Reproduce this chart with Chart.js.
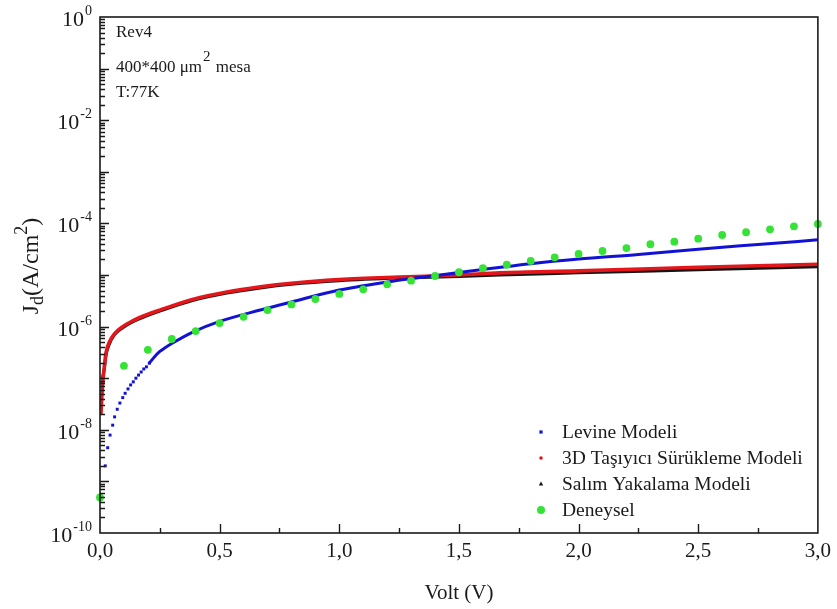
<!DOCTYPE html>
<html>
<head>
<meta charset="utf-8">
<title>Jd - Volt</title>
<script src="https://cdn.jsdelivr.net/npm/chart.js@4.4.0/dist/chart.umd.min.js"></script>
<style>
  html, body { margin: 0; padding: 0; background: #fff; }
</style>
</head>
<body>
<canvas id="jvChart" width="837" height="609"></canvas>
<script>
// Levine modeli (V, A/cm^2)
const voltLevine = [0.022, 0.032, 0.042, 0.053, 0.061, 0.072, 0.083, 0.095, 0.105, 0.117, 0.128, 0.139, 0.150, 0.161, 0.172, 0.183, 0.194, 0.206,
                    0.228, 0.25, 0.272, 0.3, 0.39, 0.5, 0.67, 0.8, 1.0, 1.24, 1.42, 1.5, 1.8, 2.0, 2.25, 2.5, 2.75, 3.0];
const jLevine = [2.0e-9, 4.5e-9, 7.9e-9, 1.23e-8, 1.78e-8, 2.5e-8, 3.3e-8, 4.2e-8, 5.1e-8, 6.2e-8, 7.4e-8, 8.5e-8, 1.0e-7, 1.15e-7, 1.32e-7, 1.51e-7, 1.66e-7, 1.95e-7,
                 2.6e-7, 3.3e-7, 3.9e-7, 4.7e-7, 7.9e-7, 1.26e-6, 2.1e-6, 3.0e-6, 5.1e-6, 7.8e-6, 1.0e-5, 1.12e-5, 1.66e-5, 2.04e-5, 2.5e-5, 3.16e-5, 3.9e-5, 4.8e-5];

// 3D taşıyıcı sürükleme modeli
const voltSurukleme = [0.004, 0.008, 0.012, 0.018, 0.025, 0.039, 0.06, 0.095, 0.136, 0.19, 0.25, 0.39, 0.53, 0.67, 0.8, 1.0, 1.25, 1.5, 1.67, 2.0, 2.5, 3.0];
const jSurukleme = [2.0e-8, 4.7e-8, 8.9e-8, 1.66e-7, 3.1e-7, 5.0e-7, 7.2e-7, 1.0e-6, 1.29e-6, 1.66e-6, 2.09e-6, 3.39e-6, 4.68e-6, 5.89e-6, 6.92e-6, 8.13e-6, 9.12e-6, 1.0e-5, 1.1e-5, 1.2e-5, 1.41e-5, 1.62e-5];

// Salım yakalama modeli
const voltSalim = [0.01, 0.018, 0.025, 0.039, 0.06, 0.095, 0.136, 0.19, 0.25, 0.39, 0.53, 0.67, 0.8, 1.0, 1.25, 1.5, 1.67, 2.0, 2.5, 3.0];
const jSalim = [1.0e-7, 1.51e-7, 2.75e-7, 4.57e-7, 6.9e-7, 9.5e-7, 1.23e-6, 1.58e-6, 2.0e-6, 3.24e-6, 4.47e-6, 5.62e-6, 6.61e-6, 7.76e-6, 8.71e-6, 9.33e-6, 1.0e-5, 1.1e-5, 1.26e-5, 1.45e-5];

// Deneysel ölçüm
const voltDeneysel = [0.0, 0.1, 0.2, 0.3, 0.4, 0.5, 0.6, 0.7, 0.8, 0.9, 1.0, 1.1, 1.2, 1.3, 1.4, 1.5, 1.6, 1.7, 1.8, 1.9, 2.0,
                      2.1, 2.2, 2.3, 2.4, 2.5, 2.6, 2.7, 2.8, 2.9, 3.0];
const jDeneysel = [4.9e-10, 1.74e-7, 3.55e-7, 5.75e-7, 8.2e-7, 1.17e-6, 1.55e-6, 2.09e-6, 2.69e-6, 3.43e-6, 4.29e-6, 5.28e-6, 6.61e-6, 7.76e-6, 9.57e-6, 1.13e-5,
                   1.35e-5, 1.58e-5, 1.87e-5, 2.2e-5, 2.55e-5, 2.92e-5, 3.33e-5, 3.94e-5, 4.42e-5, 5.05e-5, 5.96e-5, 6.73e-5, 7.69e-5, 8.79e-5, 9.73e-5];

const etiketler = ['Levine Modeli', '3D Taşıyıcı Sürükleme Modeli', 'Salım Yakalama Modeli', 'Deneysel'];
const yUsler = [0, -2, -4, -6, -8, -10];
const notlar = ['Rev4', '400*400 μm', 'T:77K'];

const SERIF = "'Liberation Serif', 'Times New Roman', serif";
const AZUL = '#1212d6';
const ROJO = '#e3161c';
const NEGRO = '#151515';
const VERDE = '#36e236';

function puntos(xs, ys) {
    return xs.map((x, i) => ({ x: x, y: ys[i] }));
}

// Marco, marcas de eje, etiquetas 10^n, título Y, leyenda y notas
const marcoPlugin = {
    id: 'marco',
    afterDraw(chart) {
        const ctx = chart.ctx;
        const a = chart.chartArea;
        const xs = chart.scales.x;
        const ys = chart.scales.y;
        ctx.save();

        ctx.strokeStyle = '#1a1a1a';
        ctx.lineWidth = 1.6;
        ctx.strokeRect(a.left, a.top, a.right - a.left, a.bottom - a.top);

        ctx.lineWidth = 1.4;
        ctx.beginPath();
        for (let i = 1; i < 12; i++) {
            const px = Math.round(xs.getPixelForValue(i * 0.25)) + 0.5;
            const len = i % 2 === 0 ? 9 : 5;
            ctx.moveTo(px, a.bottom);
            ctx.lineTo(px, a.bottom - len);
        }
        for (let e = -10; e < 0; e++) {
            for (let k = 1; k <= 9; k++) {
                if (e === -10 && k === 1) continue;
                const py = Math.round(ys.getPixelForValue(k * Math.pow(10, e))) + 0.5;
                const len = k === 1 ? 9 : 5;
                ctx.moveTo(a.left, py);
                ctx.lineTo(a.left + len, py);
            }
        }
        ctx.stroke();

        // etiquetas del eje Y
        ctx.fillStyle = '#1a1a1a';
        ctx.textBaseline = 'alphabetic';
        ctx.textAlign = 'left';
        yUsler.forEach(e => {
            const py = ys.getPixelForValue(Math.pow(10, e));
            const us = e === 0 ? '0' : '-' + (-e);
            ctx.font = '14px ' + SERIF;
            const wUs = ctx.measureText(us).width;
            ctx.font = '22px ' + SERIF;
            const wBase = ctx.measureText('10').width;
            const fin = 92;
            ctx.fillText('10', fin - wUs - 1 - wBase, py + 9);
            ctx.font = '14px ' + SERIF;
            ctx.fillText(us, fin - wUs, py - 2);
        });

        // título del eje Y: J_d(A/cm^2)
        ctx.save();
        ctx.translate(38, 266);
        ctx.rotate(-Math.PI / 2);
        const partes = [
            { t: 'J', f: 24, dy: 0 },
            { t: 'd', f: 18, dy: 5 },
            { t: '(A/cm', f: 24, dy: 0 },
            { t: '2', f: 18, dy: -11 },
            { t: ')', f: 24, dy: 0 }
        ];
        let total = 0;
        partes.forEach(p => { ctx.font = p.f + 'px ' + SERIF; p.w = ctx.measureText(p.t).width; total += p.w; });
        let cx = -total / 2;
        partes.forEach(p => {
            ctx.font = p.f + 'px ' + SERIF;
            ctx.fillText(p.t, cx, p.dy);
            cx += p.w;
        });
        ctx.restore();

        // notas arriba a la izquierda
        ctx.font = '17px ' + SERIF;
        ctx.fillText(notlar[0], 116, 37);
        ctx.fillText(notlar[1], 116, 72);
        let w1 = ctx.measureText(notlar[1]).width;
        ctx.font = '15px ' + SERIF;
        ctx.fillText('2', 116 + w1 + 1, 61);
        const w2 = ctx.measureText('2').width;
        ctx.font = '17px ' + SERIF;
        ctx.fillText(' mesa', 116 + w1 + w2 + 2, 72);
        ctx.fillText(notlar[2], 116, 97);

        // leyenda
        ctx.textBaseline = 'middle';
        ctx.font = '19.5px ' + SERIF;
        chart.data.datasets.forEach((ds, i) => {
            const y = 432 + i * 26;
            const x = 541;
            ctx.fillStyle = ds.backgroundColor;
            ctx.beginPath();
            if (ds.marca === 'rect') {
                ctx.rect(x - 1.6, y - 1.6, 3.2, 3.2);
            } else if (ds.marca === 'triangle') {
                ctx.moveTo(x, y - 2.4);
                ctx.lineTo(x + 2.2, y + 1.6);
                ctx.lineTo(x - 2.2, y + 1.6);
                ctx.closePath();
            } else {
                ctx.arc(x, y, ds.marca === 'big' ? 4 : 1.8, 0, Math.PI * 2);
            }
            ctx.fill();
            ctx.fillStyle = '#1a1a1a';
            ctx.fillText(ds.label, 562, y + 1);
        });

        ctx.restore();
    }
};

const ctx = document.getElementById('jvChart').getContext('2d');
new Chart(ctx, {
    type: 'line',
    data: {
        datasets: [
            {
                label: etiketler[0],
                data: puntos(voltLevine, jLevine),
                marca: 'rect',
                borderColor: AZUL,
                backgroundColor: AZUL,
                borderWidth: 3,
                cubicInterpolationMode: 'monotone',
                pointStyle: 'rect',
                pointRadius: c => (c.raw && c.raw.x < 0.21) ? 2.1 : 0,
                pointBorderWidth: 0,
                segment: {
                    borderColor: c => c.p0.parsed.x < 0.2 ? 'rgba(0,0,0,0)' : AZUL
                },
                order: 1
            },
            {
                label: etiketler[1],
                data: puntos(voltSurukleme, jSurukleme),
                marca: 'dot',
                borderColor: ROJO,
                backgroundColor: ROJO,
                borderWidth: 3.6,
                cubicInterpolationMode: 'monotone',
                pointRadius: 0,
                order: 2
            },
            {
                label: etiketler[2],
                data: puntos(voltSalim, jSalim),
                marca: 'triangle',
                borderColor: NEGRO,
                backgroundColor: NEGRO,
                borderWidth: 3,
                cubicInterpolationMode: 'monotone',
                pointRadius: 0,
                order: 3
            },
            {
                label: etiketler[3],
                data: puntos(voltDeneysel, jDeneysel),
                marca: 'big',
                showLine: false,
                backgroundColor: VERDE,
                borderColor: VERDE,
                pointRadius: 3.9,
                pointBorderWidth: 0,
                clip: 6,
                order: 0
            }
        ]
    },
    options: {
        responsive: false,
        animation: false,
        layout: { padding: { top: 17, right: 17, left: 0, bottom: 0 } },
        plugins: {
            legend: { display: false },
            tooltip: { enabled: false }
        },
        scales: {
            x: {
                type: 'linear',
                min: 0,
                max: 3,
                afterFit: s => { s.height = 76; },
                grid: { display: false, drawTicks: false },
                border: { display: false },
                ticks: {
                    stepSize: 0.5,
                    padding: 6,
                    color: '#1a1a1a',
                    font: { family: SERIF, size: 21 },
                    callback: v => v.toFixed(1).replace('.', ',')
                },
                title: {
                    display: true,
                    text: 'Volt (V)',
                    color: '#1a1a1a',
                    font: { family: SERIF, size: 21 },
                    padding: { top: 0, bottom: 3 }
                }
            },
            y: {
                type: 'logarithmic',
                min: 1e-10,
                max: 1,
                afterFit: s => { s.width = 100; },
                grid: { display: false, drawTicks: false },
                border: { display: false },
                ticks: { display: false }
            }
        }
    },
    plugins: [marcoPlugin]
});
</script>
</body>
</html>
